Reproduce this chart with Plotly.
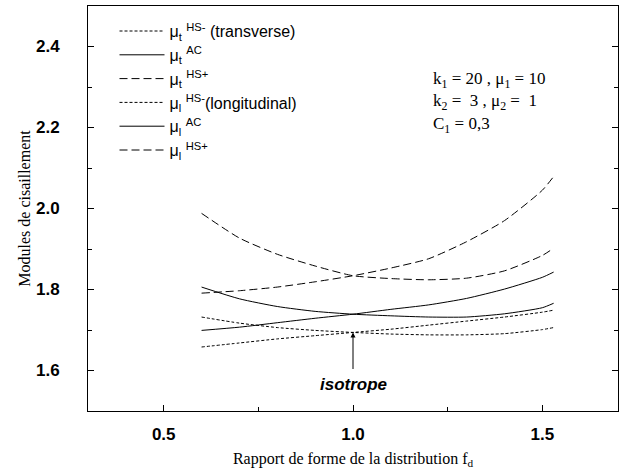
import plotly.graph_objects as go

# Data
fd = [0.6, 0.7, 0.8, 0.9, 1.0, 1.1, 1.2, 1.3, 1.4, 1.5, 1.53]

mu_t_hs_minus = [1.732, 1.717, 1.706, 1.699, 1.694, 1.690, 1.688, 1.688, 1.691, 1.701, 1.706]
mu_t_ac       = [1.806, 1.777, 1.758, 1.746, 1.739, 1.735, 1.732, 1.732, 1.740, 1.755, 1.766]
mu_t_hs_plus  = [1.988, 1.927, 1.887, 1.858, 1.834, 1.827, 1.824, 1.828, 1.846, 1.884, 1.902]
mu_l_hs_minus = [1.658, 1.668, 1.678, 1.686, 1.694, 1.702, 1.712, 1.722, 1.732, 1.744, 1.749]
mu_l_ac       = [1.699, 1.707, 1.718, 1.729, 1.739, 1.751, 1.762, 1.778, 1.801, 1.830, 1.843]
mu_l_hs_plus  = [1.791, 1.797, 1.806, 1.819, 1.834, 1.853, 1.876, 1.918, 1.970, 2.045, 2.079]

names = [
    "μ<sub>t</sub> <sup>HS-</sup> (transverse)",
    "μ<sub>t</sub> <sup>AC</sup>",
    "μ<sub>t</sub> <sup>HS+</sup>",
    "μ<sub>l</sub> <sup>HS-</sup>(longitudinal)",
    "μ<sub>l</sub> <sup>AC</sup>",
    "μ<sub>l</sub> <sup>HS+</sup>",
]
series = [mu_t_hs_minus, mu_t_ac, mu_t_hs_plus, mu_l_hs_minus, mu_l_ac, mu_l_hs_plus]
dashes = ["3px,2px", "solid", "8px,4px", "3px,2px", "solid", "8px,4px"]

x_ticks = [0.5, 1.0, 1.5]
y_ticks = [1.6, 1.8, 2.0, 2.2, 2.4]

iso_x, iso_y = 1.0, 1.694

fig = go.Figure()
for n, s, d in zip(names, series, dashes):
    fig.add_trace(go.Scatter(x=fd, y=s, mode="lines", name=n,
                             line=dict(color="black", width=1, dash=d,
                                       shape="spline", smoothing=0.6)))

tickfont = dict(family="Liberation Sans", size=17, color="black", weight="bold")
serif = "Liberation Serif"

fig.update_layout(
    width=623, height=473,
    margin=dict(l=88, r=5, t=6, b=62),
    plot_bgcolor="white", paper_bgcolor="white",
    showlegend=True,
    legend=dict(x=0.05, y=0.98, xanchor="left", yanchor="top",
                bgcolor="rgba(0,0,0,0)", itemwidth=45,
                font=dict(family="Liberation Sans", size=16, color="black"),
                tracegroupgap=0),
    xaxis=dict(range=[0.3, 1.7], tickvals=x_ticks, ticktext=[f"{v:.1f}" for v in x_ticks],
               showgrid=False, zeroline=False, automargin=False,
               showline=True, linecolor="black", linewidth=1, mirror=True,
               ticks="inside", ticklen=6, tickcolor="black",
               minor=dict(tickvals=[0.75, 1.25], ticks="inside", ticklen=4, tickcolor="black"),
               tickfont=tickfont, ticklabelstandoff=8,
               title=dict(text="Rapport de forme de la distribution f<sub>d</sub>",
                          font=dict(family=serif, size=16, color="black"), standoff=9)),
    yaxis=dict(range=[1.5, 2.5], tickvals=y_ticks, ticktext=[f"{v:.1f}" for v in y_ticks],
               showgrid=False, zeroline=False, automargin=False,
               showline=True, linecolor="black", linewidth=1, mirror="ticks",
               ticks="inside", ticklen=6, tickcolor="black",
               minor=dict(tickvals=[1.5, 1.7, 1.9, 2.1, 2.3], ticks="inside", ticklen=4, tickcolor="black"),
               tickfont=tickfont, ticklabelstandoff=24,
               title=dict(text="Modules de cisaillement",
                          font=dict(family=serif, size=16, color="black"), standoff=1)),
)

fig.add_annotation(x=iso_x, y=iso_y, ax=iso_x, ay=1.6, xref="x", yref="y", axref="x", ayref="y",
                   text="", showarrow=True, arrowhead=2, arrowsize=1, arrowwidth=1, arrowcolor="black")
fig.add_annotation(x=iso_x, y=1.566, xref="x", yref="y", text="<b><i>isotrope</i></b>",
                   showarrow=False, font=dict(family="Liberation Sans", size=17, color="black"))

params = ["k<sub>1</sub> = 20 , μ<sub>1</sub> = 10",
          "k<sub>2</sub> =  3 , μ<sub>2</sub> =  1",
          "C<sub>1</sub> = 0,3"]
for i, t in enumerate(params):
    fig.add_annotation(x=0.648, y=0.817 - i * 0.055, xref="paper", yref="paper",
                       xanchor="left", yanchor="middle", text=t, showarrow=False,
                       font=dict(family=serif, size=17, color="black"))

fig.write_html("out.html", config={"displayModeBar": False},
               post_script="document.body.style.margin='0px';")
